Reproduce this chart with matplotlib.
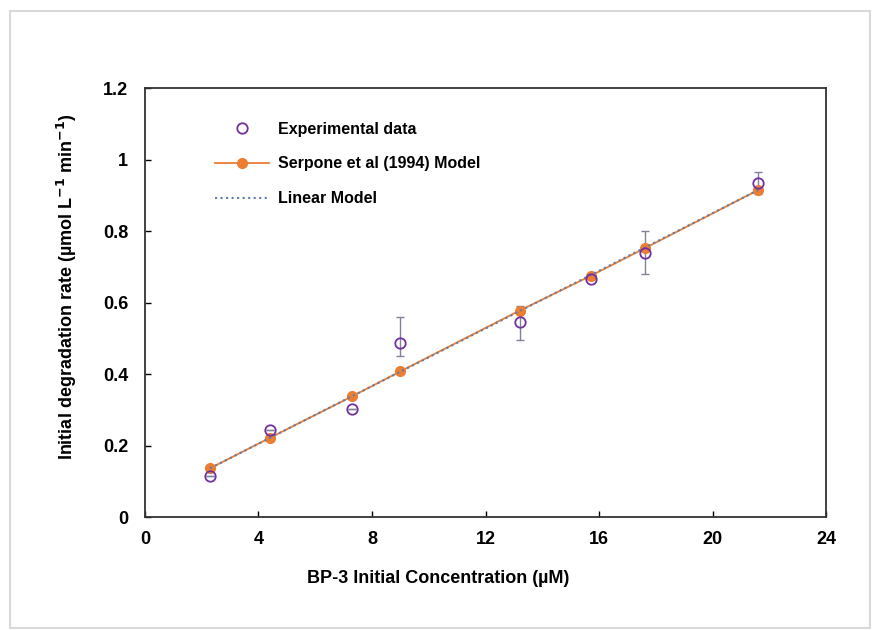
import numpy as np
import matplotlib.pyplot as plt
from matplotlib.patches import Rectangle

plt.rcParams['font.family'] = ['Liberation Sans', 'DejaVu Sans']
plt.rcParams['font.weight'] = 'bold'
plt.rcParams['axes.labelweight'] = 'bold'

# BP-3 initial concentration (uM)
conc = [2.3, 4.4, 7.3, 9.0, 13.2, 15.7, 17.6, 21.6]
# measured initial degradation rate and its error
rate_exp = [0.115, 0.243, 0.303, 0.487, 0.545, 0.665, 0.740, 0.935]
rate_err_lo = [0.0, 0.0, 0.0, 0.035, 0.048, 0.0, 0.060, 0.030]
rate_err_hi = [0.0, 0.0, 0.0, 0.072, 0.045, 0.0, 0.060, 0.032]
# Serpone et al (1994) model predictions
rate_serpone = [0.137, 0.222, 0.338, 0.408, 0.578, 0.675, 0.752, 0.915]
# straight-line fit endpoints
lin_x = [2.3, 21.6]
lin_y = [0.137, 0.915]

fig = plt.figure(figsize=(8.78, 6.30), dpi=100)
fig.patches.append(Rectangle((10 / 878, 2 / 630), 860 / 878, 617 / 630,
                             transform=fig.transFigure, fill=False,
                             edgecolor='#d9d9d9', lw=1.5))
ax = fig.add_axes([0.165, 0.179, 0.776, 0.681])

ax.errorbar(conc, rate_exp, yerr=[rate_err_lo, rate_err_hi], fmt='none',
            ecolor='#80809a', elinewidth=1, capsize=3, capthick=1, zorder=2)
ax.plot(conc, rate_serpone, '-', color='#ed7d31', lw=1.3, marker='o',
        ms=7, mfc='#ed7d31', mec='#ed7d31', zorder=3,
        label='Serpone et al (1994) Model')
ax.plot(lin_x, lin_y, ':', color='#5b7db1', lw=1.5, zorder=4,
        label='Linear Model')
ax.plot(conc, rate_exp, 'o', ms=7.5, mfc='none', mec='#7030a0', mew=1.3,
        zorder=5, label='Experimental data')

ax.set_xlim(0, 24)
ax.set_ylim(0, 1.2)
ax.set_xticks(np.arange(0, 25, 4))
ax.set_yticks([0, 0.2, 0.4, 0.6, 0.8, 1, 1.2])
ax.set_yticklabels(['0', '0.2', '0.4', '0.6', '0.8', '1', '1.2'])
ax.tick_params(direction='in', length=4, width=1, labelsize=13)
ax.tick_params(axis='x', pad=10)
ax.tick_params(axis='y', pad=12)
for s in ax.spines.values():
    s.set_linewidth(1.3)
    s.set_color('#333333')

ax.set_xlabel('BP-3 Initial Concentration (µM)', fontsize=13)
ax.set_ylabel('Initial degradation rate (µmol L$^{\\mathbf{-1}}$ min$^{\\mathbf{-1}}$)',
              fontsize=13)
ax.xaxis.set_label_coords(0.430, -0.124)
ax.yaxis.set_label_coords(-0.096, 0.538)

h, l = ax.get_legend_handles_labels()
order = [2, 0, 1]
ax.legend([h[i] for i in order], [l[i] for i in order], frameon=False,
          loc='center left', bbox_to_anchor=(215 / 878, 1 - 164 / 630),
          bbox_transform=fig.transFigure, borderpad=0, borderaxespad=0,
          fontsize=11.5, handlelength=3.4, labelspacing=1.25, handletextpad=0.55)

fig.savefig('out.png', dpi=100)
